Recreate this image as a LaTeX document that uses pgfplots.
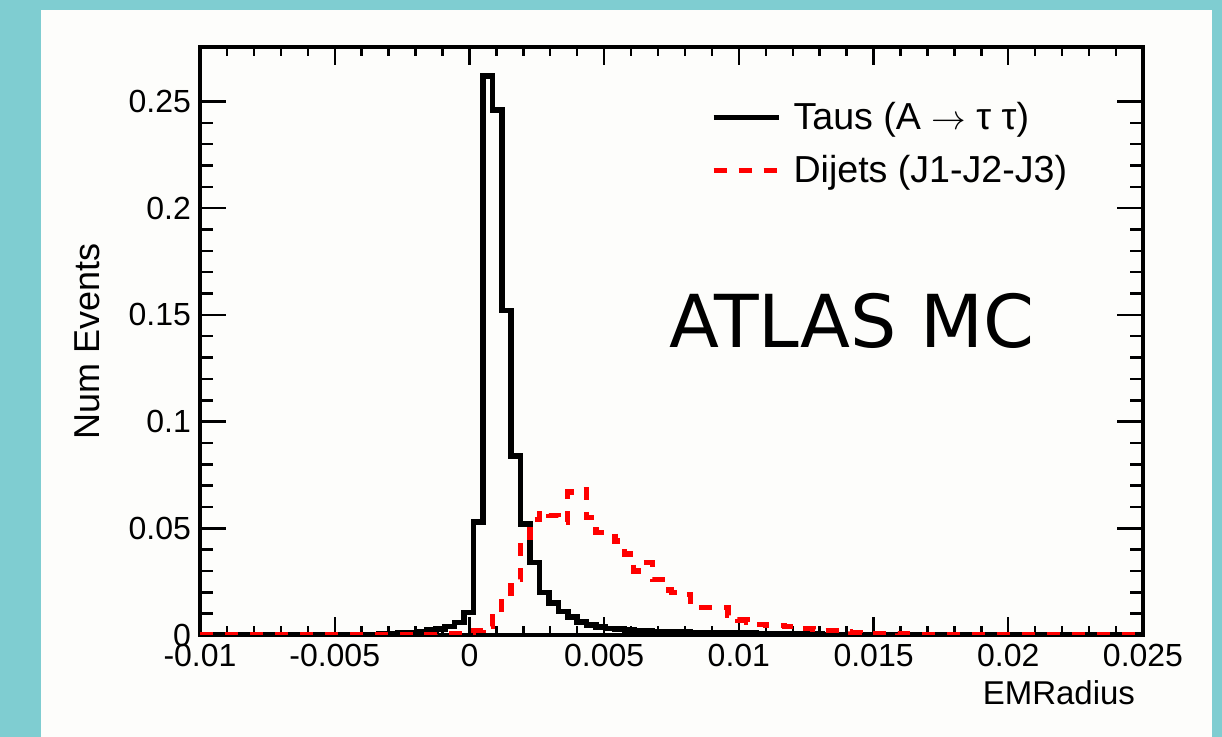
\documentclass[border=0pt]{standalone}
\usepackage{fontspec}
\setmainfont{Liberation Sans}
\newfontfamily\atlasfont{DejaVu Sans}
\usepackage{pgfplots}
\usepackage{pgfplotstable}
\pgfplotsset{compat=1.18}

\definecolor{frameteal}{RGB}{127,205,209}
\definecolor{panel}{RGB}{253,253,251}
\definecolor{rootred}{RGB}{255,0,0}

% bin left edges (bin width 0.00035), Taus and Dijets contents
\pgfplotstableread{
x        taus    dijets
-0.01    0       0
-0.0044  0.0000  0
-0.00405 0.0002  0
-0.0037  0.0003  0
-0.00335 0.0005  0
-0.003   0.0007  0
-0.00265 0.0009  0
-0.0023  0.0012  0
-0.00195 0.0016  0
-0.0016  0.0022  0.0002
-0.00125 0.0028  0.0003
-0.0009  0.0039  0.0004
-0.00055 0.0058  0.0006
-0.0002  0.0105  0.001
0.00015  0.053   0.002
0.0005   0.262   0.004
0.00085  0.246   0.010
0.0012   0.152   0.017
0.00155  0.084   0.026
0.0019   0.052   0.044
0.00225  0.034   0.054
0.0026   0.020   0.058
0.00295  0.015   0.056
0.0033   0.011   0.053
0.00365  0.0083  0.067
0.004    0.0062  0.068
0.00435  0.0047  0.055
0.0047   0.0037  0.048
0.00505  0.0031  0.048
0.0054   0.0027  0.044
0.00575  0.0023  0.038
0.0061   0.0020  0.030
0.00645  0.0018  0.034
0.0068   0.0016  0.026
0.00715  0.0015  0.021
0.0075   0.0014  0.020
0.00785  0.0013  0.019
0.0082   0.0012  0.013
0.00855  0.0011  0.013
0.0089   0.0010  0.013
0.00925  0.0010  0.013
0.0096   0.0009  0.009
0.00995  0.0008  0.007
0.0103   0.0008  0.006
0.01065  0.0007  0.005
0.011    0.0006  0.0045
0.01135  0.0006  0.0045
0.0117   0.0005  0.004
0.01205  0.0005  0.003
0.0124   0.0004  0.003
0.01275  0.0004  0.0025
0.0131   0.0003  0.002
0.01345  0.0003  0.002
0.0138   0.0002  0.0015
0.01415  0.0002  0.0012
0.0145   0.0001  0.001
0.01485  0.0001  0.0008
0.0152   0.0001  0.0008
0.01555  0.0001  0.0006
0.0159   0       0.0005
0.01625  0       0.0004
0.0166   0       0.0003
0.01695  0       0.0003
0.0173   0       0.0002
0.01765  0       0.0002
0.018    0       0.0001
0.025    0       0
}\emradius

\begin{document}
\begin{tikzpicture}
\fill[frameteal] (0pt,0pt) rectangle (611pt,368.5pt);
\fill[panel] (20.5pt,0pt) rectangle (606pt,363.5pt);
\begin{axis}[
    at={(100pt,51pt)}, anchor=south west,
    scale only axis,
    width=471.5pt, height=294pt,
    xmin=-0.01, xmax=0.025,
    ymin=0, ymax=0.2756,
    scaled x ticks=false, scaled y ticks=false,
    xtick={-0.01,-0.005,0,0.005,0.01,0.015,0.02,0.025},
    xticklabels={-0.01,-0.005,0,0.005,0.01,0.015,0.02,0.025},
    ytick={0,0.05,0.1,0.15,0.2,0.25},
    yticklabels={0,0.05,0.1,0.15,0.2,0.25},
    minor x tick num=4,
    minor y tick num=4,
    tick align=inside,
    major tick length=13pt,
    minor tick length=6.5pt,
    x tick style={/pgfplots/major tick length=9pt, /pgfplots/minor tick length=4.5pt},
    every tick/.style={black, line width=1.2pt},
    axis line style={line width=1.6pt},
    tick label style={font=\fontsize{16}{19}\selectfont},
    xticklabel style={yshift=-1pt},
    yticklabel style={xshift=-1pt},
    xlabel={EMRadius},
    ylabel={Num Events},
    ylabel style={font=\fontsize{18}{21}\selectfont,
        at={(axis description cs:-0.119,0.5)}, anchor=center},
    xlabel style={font=\fontsize{16.5}{19}\selectfont,
        at={(axis description cs:0.999,-0.099)}, anchor=east},
    legend style={draw=none, fill=none,
        at={(axis description cs:0.535,0.92)}, anchor=north west,
        font=\fontsize{18.8}{21}\selectfont, row sep=7.5pt},
    legend cell align=left,
    legend image code/.code={\draw[#1] (0pt,0pt) -- (32.5pt,0pt); \path (36.5pt,0pt);},
]
\addplot[const plot, black, line width=2.8pt] table[x=x, y=taus] {\emradius};
\addlegendentry{Taus (A $\rightarrow$ τ τ)}
\addplot[const plot, rootred, line width=2.7pt, dash pattern=on 6.5pt off 6pt] table[x=x, y=dijets] {\emradius};
\addlegendentry{Dijets (J1-J2-J3)}
\node[font=\atlasfont\fontsize{36.5}{40}\selectfont] at (axis cs:0.0142,0.147) {ATLAS MC};
\end{axis}
\end{tikzpicture}
\end{document}
